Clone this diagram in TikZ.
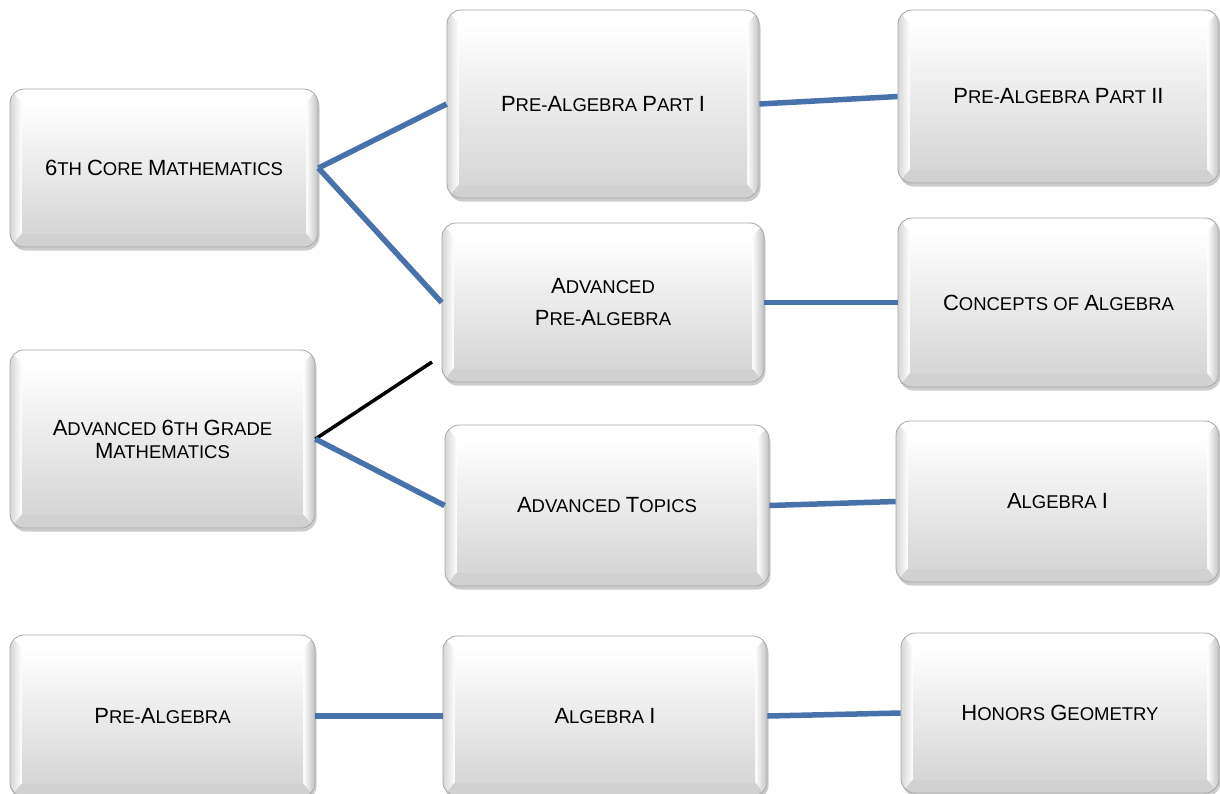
\documentclass[tikz,border=0pt]{standalone}
\usepackage{fontspec}
\setmainfont{Liberation Sans}
\usetikzlibrary{shadows,calc,positioning}
\definecolor{linkblue}{RGB}{72,115,170}
\newcommand\bigc[1]{{\fontsize{22}{26}\selectfont #1}}
\tikzset{
    box/.style = {rectangle, rounded corners=14pt, draw=gray!70, line width=0.8pt,
                  fill=white, inner sep=0pt, align=center,
                  font=\fontsize{18.5}{23}\selectfont,
                  drop shadow={shadow xshift=1.5pt, shadow yshift=-3.5pt, opacity=0.4},
                  path picture={
                    \path (path picture bounding box.north west) coordinate (o1) ++(12,14) coordinate (i1)
                          (path picture bounding box.north east) coordinate (o2) ++(-12,14) coordinate (i2)
                          (path picture bounding box.south east) coordinate (o3) ++(-12,-14) coordinate (i3)
                          (path picture bounding box.south west) coordinate (o4) ++(12,-14) coordinate (i4);
                    \fill[sharp corners, white] (o1) -- (o2) -- (i2) -- (i1) -- cycle;
                    \fill[sharp corners, gray!36] (o4) -- (o3) -- (i3) -- (i4) -- cycle;
                    \shade[sharp corners, left color=gray!32, right color=white] (o1) -- (i1) -- (i4) -- (o4) -- cycle;
                    \shade[sharp corners, left color=white, right color=gray!48] (o2) -- (i2) -- (i3) -- (o3) -- cycle;
                    \shade[sharp corners, top color=white, middle color=gray!7, bottom color=gray!32] (i1) rectangle (i3);
                  }},
    link/.style = {draw=linkblue, line width=5.5pt},
    blackline/.style = {draw=black, line width=3.5pt}
}
\begin{document}
\begin{tikzpicture}[x=1pt,y=-1pt]
  \useasboundingbox (0,0) rectangle (1220,793);
  % left column
  \node (C6) at (164,168) [box, minimum width=308pt, minimum height=158pt]
        {\bigc{6}TH \bigc{C}ORE \bigc{M}ATHEMATICS};
  \node (A6) at (162.5,439) [box, minimum width=305pt, minimum height=178pt]
        {\bigc{A}DVANCED \bigc{6}TH \bigc{G}RADE\\\bigc{M}ATHEMATICS};
  \node (PA) at (162.5,716) [box, minimum width=305pt, minimum height=162pt]
        {\bigc{P}RE-\bigc{A}LGEBRA};
  % middle column
  \node (PA1) at (603,104) [box, minimum width=312pt, minimum height=188pt]
        {\bigc{P}RE-\bigc{A}LGEBRA \bigc{P}ART \bigc{I}};
  \node (APA) at (603,302.5) [box, minimum width=322pt, minimum height=159pt]
        {\bigc{A}DVANCED\\[9pt]\bigc{P}RE-\bigc{A}LGEBRA};
  \node (AT) at (607,505.5) [box, minimum width=324pt, minimum height=161pt]
        {\bigc{A}DVANCED \bigc{T}OPICS};
  \node (AL) at (605,716) [box, minimum width=324pt, minimum height=160pt]
        {\bigc{A}LGEBRA \bigc{I}};
  % right column
  \node (PA2) at (1058.5,96.5) [box, minimum width=321pt, minimum height=173pt]
        {\bigc{P}RE-\bigc{A}LGEBRA \bigc{P}ART \bigc{II}};
  \node (CA) at (1058.5,302.5) [box, minimum width=321pt, minimum height=169pt]
        {\bigc{C}ONCEPTS OF \bigc{A}LGEBRA};
  \node (AL1) at (1057.5,501.5) [box, minimum width=323pt, minimum height=161pt]
        {\bigc{A}LGEBRA \bigc{I}};
  \node (HG) at (1060,713) [box, minimum width=318pt, minimum height=160pt]
        {\bigc{H}ONORS \bigc{G}EOMETRY};
  \coordinate (K) at (432,362);

  \path (C6.east) edge [link] (PA1.west);
  \path (C6.east) edge [link] (APA.west);
  \path (A6.east) edge [blackline] (K);
  \path (A6.east) edge [link] (AT.west);
  \path (PA1.east) edge [link] (PA2.west);
  \path (APA.east) edge [link] (CA.west);
  \path (AT.east) edge [link] (AL1.west);
  \path (PA.east) edge [link] (AL.west);
  \path (AL.east) edge [link] (HG.west);
\end{tikzpicture}
\end{document}
